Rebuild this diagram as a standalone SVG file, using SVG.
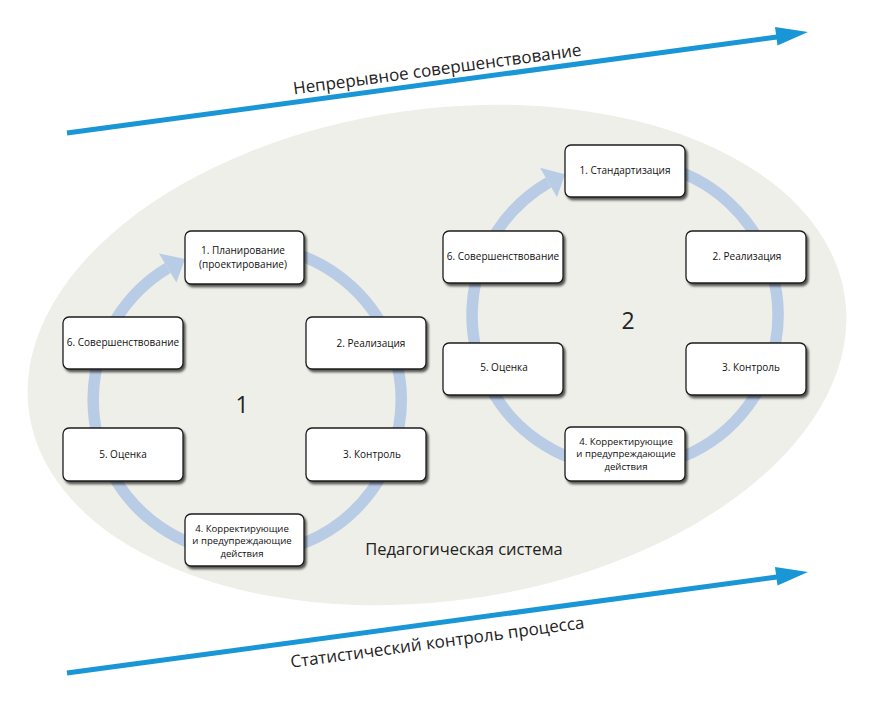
<svg xmlns="http://www.w3.org/2000/svg" width="876" height="704" viewBox="0 0 876 704">
<defs>
<filter id="sh" x="-10%" y="-10%" width="130%" height="140%">
<feDropShadow dx="2" dy="2.5" stdDeviation="1" flood-color="#000" flood-opacity="0.65"/>
</filter>
</defs>
<style>
.box{fill:#fff;stroke:#1e1e1e;stroke-width:1.3;filter:url(#sh)}
.t{font-family:"Open Sans","Noto Sans",sans-serif;font-size:10px;fill:#111;text-anchor:middle}
.t3{font-size:9.6px}
.ring{fill:none;stroke:#b9cce5;stroke-width:11.5}
.head{fill:#b9cce5}
.blue{stroke:#1896d6;stroke-width:5;fill:none}
.bhead{fill:#1896d6}
.lbl{font-family:"Open Sans","Noto Sans",sans-serif;fill:#222;text-anchor:middle}
</style>
<rect width="876" height="704" fill="#fff"/>
<ellipse id="system" cx="437" cy="355" rx="412" ry="246" transform="rotate(-8 437 355)" fill="#efefe9"/>
<g id="connectors">
<path class="ring" d="M207.1,251.2 A154,154 0 1 1 167.7,268.0"/>
<polygon class="head" points="158.9,253.4 185,259 176.4,282.6"/>
<path class="ring" d="M585.4,167.2 A153,153 0 1 1 548.5,182.5"/>
<polygon class="head" points="540,167.8 565,174.3 557,197.2"/>
<line class="blue" x1="67" y1="133" x2="777" y2="37"/>
<polygon class="bhead" points="808,32 775,27 777.5,45.5"/>
<line class="blue" x1="67" y1="673" x2="777" y2="577"/>
<polygon class="bhead" points="808,572 775,567 777.5,585.5"/>
</g>
<text class="lbl" font-size="17" transform="translate(438,75) rotate(-7.7)">Непрерывное совершенствование</text>
<text class="lbl" font-size="17" transform="translate(438,648) rotate(-7.7)">Статистический контроль процесса</text>
<text class="lbl" font-size="16.5" x="464" y="555">Педагогическая система</text>
<text class="lbl" font-size="23" x="242" y="413">1</text>
<text class="lbl" font-size="23" x="628" y="329">2</text>
<g id="c1n1"><rect class="box" x="185" y="231" width="119" height="53" rx="6"/><text class="t" x="243" y="254">1. Планирование</text><text class="t" x="243" y="267.5">(проектирование)</text></g>
<g id="c1n2"><rect class="box" x="306" y="317" width="120" height="52" rx="6"/><text class="t" x="371" y="347">2. Реализация</text></g>
<g id="c1n3"><rect class="box" x="306" y="428" width="120" height="53" rx="6"/><text class="t" x="372" y="458">3. Контроль</text></g>
<g id="c1n4"><rect class="box" x="185" y="514" width="119" height="52" rx="6"/><text class="t t3" x="242" y="531.5">4. Корректирующие</text><text class="t t3" x="242" y="544">и предупреждающие</text><text class="t t3" x="242" y="556.5">действия</text></g>
<g id="c1n5"><rect class="box" x="63" y="428" width="120" height="53" rx="6"/><text class="t" x="123" y="458">5. Оценка</text></g>
<g id="c1n6"><rect class="box" x="63" y="317" width="120" height="52" rx="6"/><text class="t" x="123" y="346">6. Совершенствование</text></g>
<g id="c2n1"><rect class="box" x="565" y="145" width="120" height="52" rx="6"/><text class="t" x="625" y="174">1. Стандартизация</text></g>
<g id="c2n2"><rect class="box" x="686" y="231" width="120" height="52" rx="6"/><text class="t" x="747" y="260">2. Реализация</text></g>
<g id="c2n3"><rect class="box" x="686" y="343" width="120" height="52" rx="6"/><text class="t" x="751" y="371">3. Контроль</text></g>
<g id="c2n4"><rect class="box" x="565" y="427" width="120" height="54" rx="6"/><text class="t t3" x="626" y="444.5">4. Корректирующие</text><text class="t t3" x="626" y="457">и предупреждающие</text><text class="t t3" x="626" y="469.5">действия</text></g>
<g id="c2n5"><rect class="box" x="443" y="343" width="120" height="52" rx="6"/><text class="t" x="504" y="371">5. Оценка</text></g>
<g id="c2n6"><rect class="box" x="443" y="231" width="120" height="52" rx="6"/><text class="t" x="503" y="260">6. Совершенствование</text></g>
</svg>
